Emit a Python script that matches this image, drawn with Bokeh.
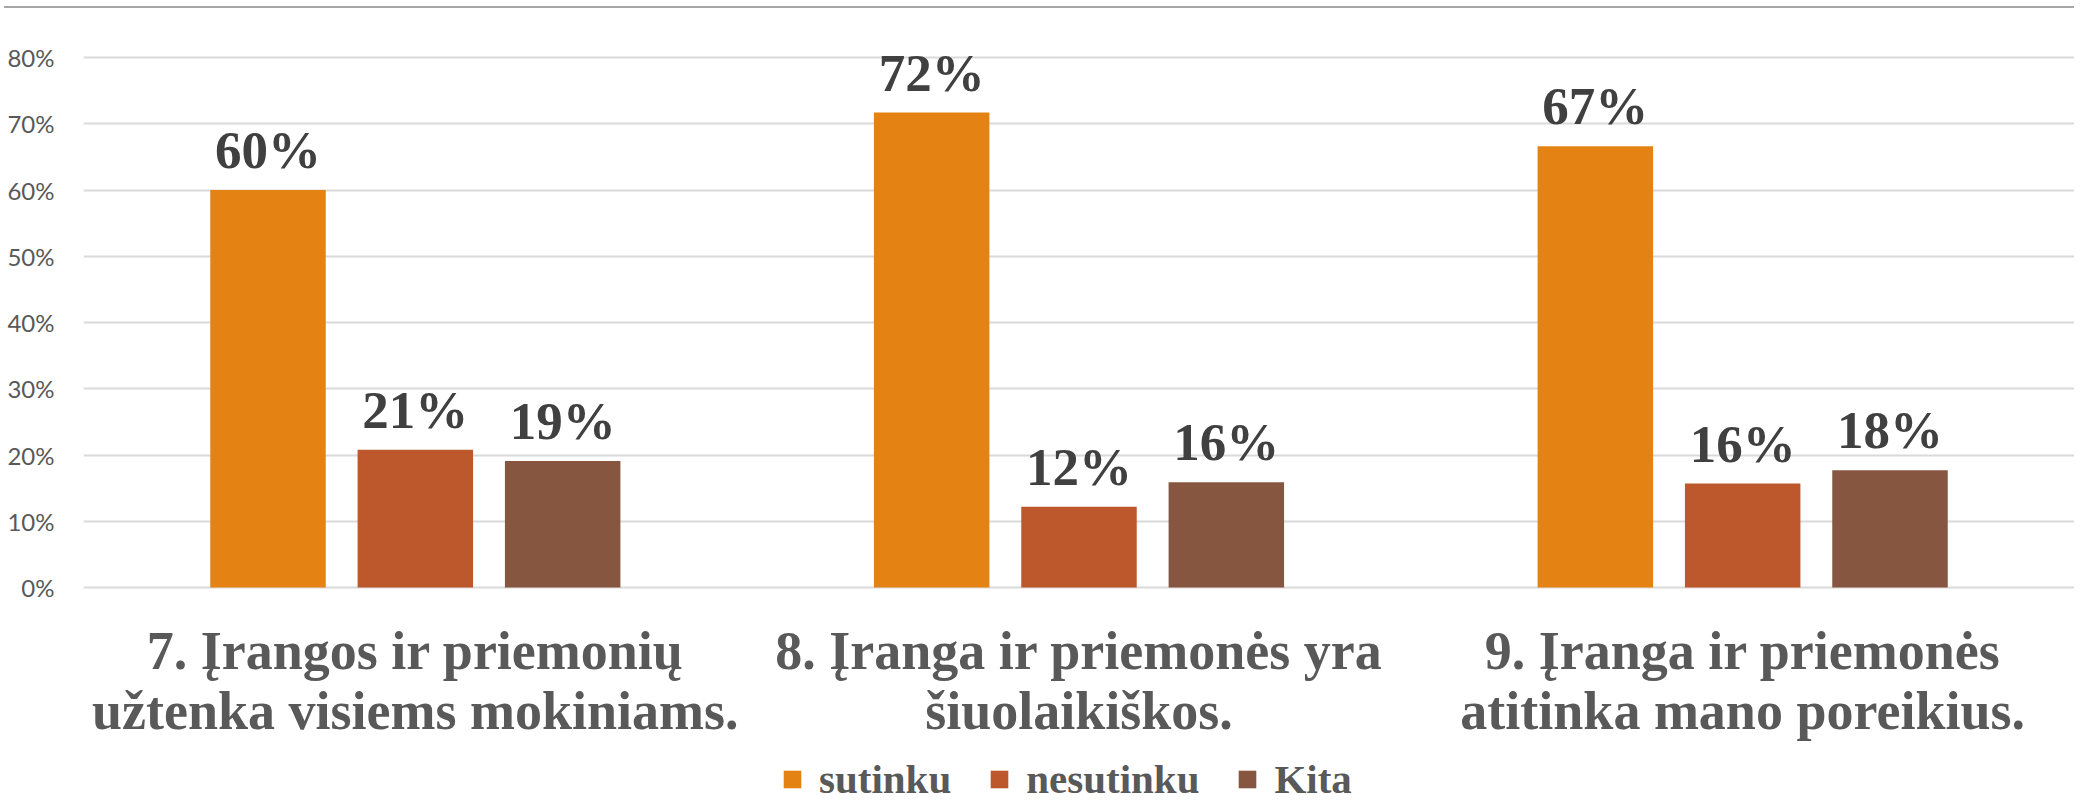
from bokeh.plotting import figure
from bokeh.models import (FactorRange, Range1d, FixedTicker, NumeralTickFormatter,
                          Legend, LegendItem, ColumnDataSource)
from bokeh.transform import dodge
from bokeh.core.properties import value
from bokeh.embed import file_html
from bokeh.resources import INLINE

categories = [
    "7. Įrangos ir priemonių\nužtenka visiems mokiniams.",
    "8. Įranga ir priemonės yra\nšiuolaikiškos.",
    "9. Įranga ir priemonės\natitinka mano poreikius.",
]
series = ["sutinku", "nesutinku", "Kita"]
sutinku = [0.600, 0.717, 0.666]
nesutinku = [0.208, 0.122, 0.157]
kita = [0.191, 0.159, 0.177]
colors = ["#E48314", "#BD582C", "#865640"]
y_ticks = [0.0, 0.1, 0.2, 0.3, 0.4, 0.5, 0.6, 0.7, 0.8]

values_by_series = [sutinku, nesutinku, kita]
offsets = [-0.222, 0.0, 0.222]

p = figure(width=2070, height=795, x_range=FactorRange(*categories),
           y_range=Range1d(-0.326, 0.859), output_backend="svg", toolbar_location=None,
           min_border_left=72, min_border_right=0, min_border_top=10,
           min_border_bottom=0, outline_line_color=None,
           styles={"border-top": "2px solid #A6A6A6", "margin-top": "6px",
                   "margin-left": "4px"})

serif = "Liberation Serif"
items = []
for name, vals, col, off in zip(series, values_by_series, colors, offsets):
    src = ColumnDataSource(dict(cat=categories, val=vals,
                                lbl=["{:.0f}%".format(v * 100) for v in vals]))
    r = p.vbar(x=dodge("cat", off, range=p.x_range), top="val", width=0.174,
               source=src, fill_color=col, line_color=None)
    p.text(x=dodge("cat", off, range=p.x_range), y="val", text="lbl", source=src,
           text_align="center", text_baseline="alphabetic", y_offset=-40,
           text_font=value(serif), text_font_style="bold",
           text_font_size="53px", text_color="#404040")
    items.append(LegendItem(label=name, renderers=[r]))

# category labels (two lines each) below the zero line
line1 = [c.split("\n")[0] for c in categories]
line2 = [c.split("\n")[1] for c in categories]
cat_src = ColumnDataSource(dict(cat=categories, l1=line1, l2=line2,
                                zero=[0.0] * len(categories)))
for col_name, yoff in (("l1", 63), ("l2", 123)):
    p.text(x="cat", y="zero", text=col_name, source=cat_src,
           text_align="center", text_baseline="alphabetic", y_offset=yoff,
           text_font=value(serif), text_font_style="bold",
           text_font_size="54px", text_color="#595959")

# axes
p.xaxis.visible = False
p.yaxis.ticker = FixedTicker(ticks=y_ticks)
p.yaxis.formatter = NumeralTickFormatter(format="0%")
p.yaxis.axis_line_color = None
p.yaxis.major_tick_line_color = None
p.yaxis.minor_tick_line_color = None
p.yaxis.major_label_standoff = 23
p.yaxis.major_label_text_font = "Lato"
p.yaxis.major_label_text_font_size = "24px"
p.yaxis.major_label_text_color = "#595959"

p.xgrid.grid_line_color = None
p.ygrid.grid_line_color = "#D9D9D9"
p.ygrid.grid_line_width = 2

legend = Legend(items=items, orientation="horizontal", location=(698, 0),
                glyph_width=22, glyph_height=22, label_standoff=16, spacing=37,
                padding=0, margin=0, border_line_color=None,
                background_fill_alpha=0,
                label_text_font=serif, label_text_font_style="bold",
                label_text_font_size="41px", label_text_color="#595959")
p.add_layout(legend, "center")

open("out.html", "w").write(file_html(p, INLINE))
